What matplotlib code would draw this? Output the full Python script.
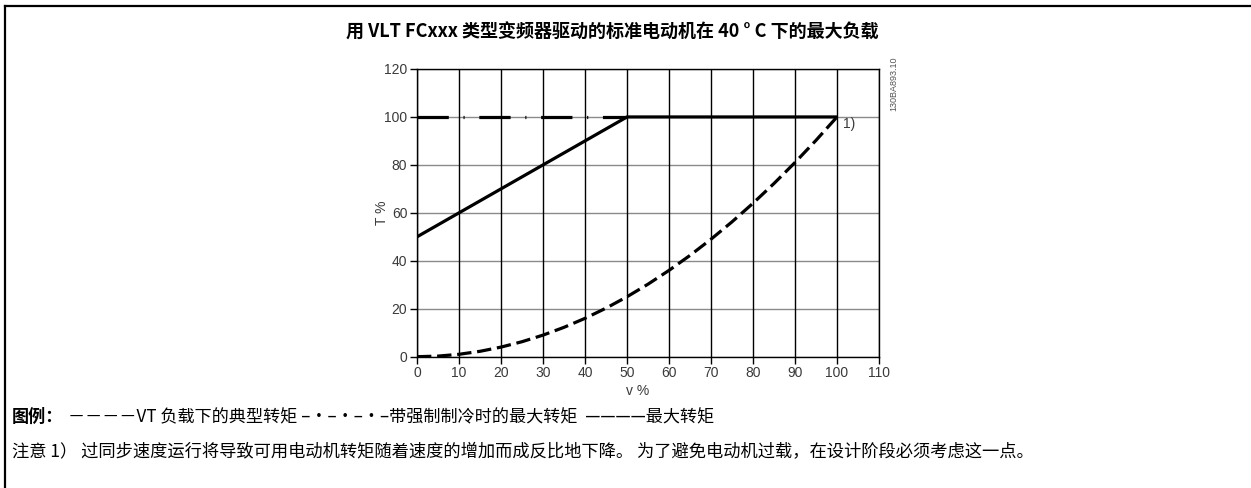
import matplotlib
matplotlib.use("Agg")
import matplotlib.pyplot as plt
from matplotlib.lines import Line2D

plt.rcParams['font.family'] = ['Noto Sans CJK SC', 'DejaVu Sans']

# --- Data ---
speed_vt = [0, 5, 10, 15, 20, 25, 30, 35, 40, 45, 50, 55, 60, 65, 70, 75, 80, 85, 90, 95, 100]
torque_vt = [0, 0.25, 1, 2.25, 4, 6.25, 9, 12.25, 16, 20.25, 25, 30.25, 36, 42.25,
             49, 56.25, 64, 72.25, 81, 90.25, 100]
speed_fc = [0, 50]
torque_fc = [100, 100]
speed_max = [0, 50, 100]
torque_max = [50, 100, 100]

xticks = list(range(0, 111, 10))
yticks = list(range(0, 121, 20))

title = "用 VLT FCxxx 类型变频器驱动的标准电动机在 40 ° C 下的最大负载"
legend_head = "图例："
legend_body = "－－－－VT 负载下的典型转矩 –•–•–•–带强制制冷时的最大转矩  ————最大转矩"
note = "注意 1） 过同步速度运行将导致可用电动机转矩随着速度的增加而成反比地下降。 为了避免电动机过载，在设计阶段必须考虑这一点。"

W, H = 1251, 488
fig = plt.figure(figsize=(W / 100, H / 100), dpi=100)
ax = fig.add_axes([417 / W, 1 - 356.7 / H, (879 - 417) / W, (356.7 - 69) / H])

# grid: grey horizontals, black verticals
for y in yticks:
    ax.axhline(y, color="#8a8a8a", lw=1.0, zorder=1)
for x in xticks:
    ax.axvline(x, color="black", lw=1.0, zorder=1)

ax.plot(speed_vt, torque_vt, color="black", lw=2.3, linestyle=(0, (4.5, 1.8)),
        dash_capstyle="butt", zorder=3)
ax.plot(speed_fc, torque_fc, color="black", lw=2.3, linestyle=(0, (9.8, 4.6, 0.35, 4.6)),
        dash_capstyle="butt", zorder=3)
ax.plot(speed_max, torque_max, color="black", lw=2.3, solid_capstyle="butt", zorder=4)

ax.set_xlim(0, 110)
ax.set_ylim(0, 120)
ax.set_xticks(xticks)
ax.set_yticks(yticks)
tick_font = dict(family="Liberation Sans", size=10)
ax.set_xticklabels([str(v) for v in xticks], fontdict=tick_font, color="#3a3a3a")
ax.set_yticklabels([str(v) for v in yticks], fontdict=tick_font, color="#3a3a3a")
ax.tick_params(axis="both", direction="out", length=5, width=1, color="black", pad=2)
for s in ax.spines.values():
    s.set_color("black")
    s.set_linewidth(1.0)

ax.set_xlabel("v %", fontfamily="Liberation Sans", fontsize=10, color="#3a3a3a")
ax.set_ylabel("T %", fontfamily="Liberation Sans", fontsize=10, color="#3a3a3a")
ax.xaxis.set_label_coords(0.478, -0.095)
ax.yaxis.set_label_coords(-0.06, 0.5)

ax.text(101.5, 97, "1)", fontfamily="Liberation Sans", fontsize=10, color="#3a3a3a",
        ha="left", va="center")
ax.text(113.5, 114, "130BA893.10", fontfamily="Liberation Sans", fontsize=6.5,
        color="#555555", rotation=90, ha="center", va="center", clip_on=False)

# title
fig.text(612 / W, 1 - 32 / H, title, fontsize=13, fontweight="bold",
         ha="center", va="center")

# legend line and note
fig.text(12 / W, 1 - 417 / H, legend_head, fontsize=12.3, fontweight="bold",
         ha="left", va="center")
fig.text(68 / W, 1 - 417 / H, legend_body, fontsize=12.3, ha="left", va="center")
fig.text(12 / W, 1 - 452 / H, note, fontsize=12.45, ha="left", va="center")

# frame (top and left edge)
fig.add_artist(Line2D([5 / W, 1], [1 - 6 / H, 1 - 6 / H], transform=fig.transFigure,
                      color="black", lw=1.6))
fig.add_artist(Line2D([5 / W, 5 / W], [0, 1 - 6 / H], transform=fig.transFigure,
                      color="black", lw=1.6))

fig.savefig("out.png", dpi=100)
